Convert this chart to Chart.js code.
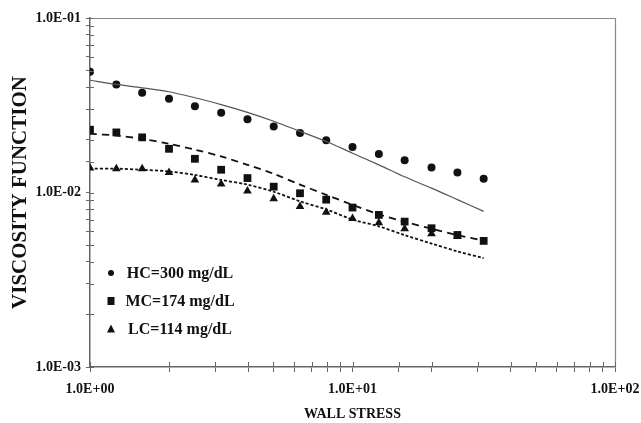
<!DOCTYPE html>
<html>
<head>
<meta charset="utf-8">
<script src="https://cdn.jsdelivr.net/npm/chart.js@4"></script>
<style>
html,body{margin:0;padding:0;background:#fff;}
#wrap{width:641px;height:423px;position:relative;}
</style>
</head>
<body>
<div id="wrap"><canvas id="c" width="641" height="423"></canvas></div>
<script>
// Wall stress values (x)
const wallStress = [1, 1.26, 1.58, 2, 2.51, 3.16, 3.98, 5.01, 6.31, 7.94, 10, 12.6, 15.8, 20, 25.1, 31.6];
// Measured viscosity function
const hcData = [0.0492, 0.0416, 0.0373, 0.0344, 0.0312, 0.0286, 0.0263, 0.0239, 0.0219, 0.0199, 0.0182, 0.0166, 0.0153, 0.0139, 0.0130, 0.0120];
const mcData = [0.0229, 0.0221, 0.0207, 0.0178, 0.0156, 0.0135, 0.0121, 0.0108, 0.0099, 0.0091, 0.0082, 0.00744, 0.00681, 0.00624, 0.00571, 0.00528];
const lcData = [0.0138, 0.0137, 0.0137, 0.0130, 0.0118, 0.0112, 0.0102, 0.0092, 0.0083, 0.0077, 0.0071, 0.0067, 0.0062, 0.0058, 0.0056];
// Model fit curves
const hcFit = [0.0440, 0.0416, 0.0398, 0.0378, 0.0349, 0.0319, 0.0288, 0.0256, 0.0224, 0.0196, 0.0168, 0.0144, 0.0123, 0.0106, 0.0091, 0.0078];
const mcFit = [0.0217, 0.0212, 0.0203, 0.0190, 0.0176, 0.0161, 0.0144, 0.0128, 0.0111, 0.0097, 0.0085, 0.0075, 0.0068, 0.0062, 0.0057, 0.0053];
const lcFit = [0.0137, 0.0137, 0.0135, 0.0132, 0.0126, 0.0118, 0.0111, 0.0101, 0.0089, 0.0080, 0.0070, 0.0064, 0.0057, 0.0051, 0.0046, 0.0042];
const seriesLabels = ['HC=300 mg/dL', 'MC=174 mg/dL', 'LC=114 mg/dL'];
const xTitle = 'WALL STRESS';
const yTitle = 'VISCOSITY FUNCTION';

const pts = (ys) => ys.map((v, i) => ({x: wallStress[i], y: v}));
const SERIF = '"Liberation Serif", "Times New Roman", serif';

function sci(v) {
  const e = Math.round(Math.log10(v));
  const s = e < 0 ? '-' : '+';
  const a = Math.abs(e);
  return '1.0E' + s + (a < 10 ? '0' + a : a);
}
function isDecade(v) {
  const l = Math.log10(v);
  return Math.abs(l - Math.round(l)) < 1e-6;
}

const framePlugin = {
  id: 'frame',
  afterDraw(chart) {
    const ctx = chart.ctx, a = chart.chartArea;
    ctx.save();
    ctx.strokeStyle = '#8a8a8a';
    ctx.lineWidth = 1.2;
    ctx.beginPath();
    ctx.moveTo(a.left, a.top + 0.5); ctx.lineTo(a.right + 0.5, a.top + 0.5);
    ctx.lineTo(a.right + 0.5, a.bottom);
    ctx.stroke();
    // inner tick marks
    ctx.strokeStyle = '#666';
    ctx.lineWidth = 1;
    const xs = chart.scales.x, ys = chart.scales.y;
    ctx.beginPath();
    xs.ticks.forEach(t => {
      const p = Math.round(xs.getPixelForValue(t.value)) + 0.5;
      ctx.moveTo(p, a.bottom); ctx.lineTo(p, a.bottom - 5);
    });
    ys.ticks.forEach(t => {
      const p = Math.round(ys.getPixelForValue(t.value)) + 0.5;
      ctx.moveTo(a.left, p); ctx.lineTo(a.left + 4, p);
    });
    ctx.stroke();
    // legend
    const lx = a.left + 21, tx = a.left + 90;
    const rows = [a.top + 255, a.top + 283, a.top + 311];
    const styles = ['circle', 'rect', 'triangle'];
    ctx.fillStyle = '#111';
    ctx.font = 'bold 16px ' + SERIF;
    ctx.textAlign = 'center';
    ctx.textBaseline = 'middle';
    rows.forEach((y, i) => {
      ctx.beginPath();
      if (styles[i] === 'circle') { ctx.arc(lx, y, 3, 0, Math.PI * 2); }
      else if (styles[i] === 'rect') { ctx.rect(lx - 3.5, y - 4, 7, 8); }
      else { ctx.moveTo(lx, y - 4.5); ctx.lineTo(lx + 4, y + 3.5); ctx.lineTo(lx - 4, y + 3.5); ctx.closePath(); }
      ctx.fill();
      ctx.fillText(seriesLabels[i], tx, y + 1);
    });
    ctx.restore();
  }
};

new Chart(document.getElementById('c'), {
  type: 'scatter',
  data: {
    datasets: [
      {label: seriesLabels[0] + ' fit', data: pts(hcFit), showLine: true, pointRadius: 0, borderColor: '#555', borderWidth: 1.2, fill: false, tension: 0.3},
      {label: seriesLabels[1] + ' fit', data: pts(mcFit), showLine: true, pointRadius: 0, borderColor: '#111', borderWidth: 1.8, borderDash: [7, 5], fill: false, tension: 0.3},
      {label: seriesLabels[2] + ' fit', data: pts(lcFit), showLine: true, pointRadius: 0, borderColor: '#111', borderWidth: 1.8, borderDash: [3, 2], fill: false, tension: 0.3},
      {label: seriesLabels[0], data: pts(hcData), pointStyle: 'circle', pointRadius: 4, backgroundColor: '#111', borderColor: '#111', borderWidth: 0},
      {label: seriesLabels[1], data: pts(mcData), pointStyle: 'rect', pointRadius: 5.5, backgroundColor: '#111', borderColor: '#111', borderWidth: 0},
      {label: seriesLabels[2], data: pts(lcData), pointStyle: 'triangle', pointRadius: 5, backgroundColor: '#111', borderColor: '#111', borderWidth: 0}
    ]
  },
  options: {
    responsive: false,
    animation: false,
    layout: {padding: {top: 18, right: 26, left: 0, bottom: 0}},
    plugins: {legend: {display: false}, tooltip: {enabled: false}},
    scales: {
      x: {
        type: 'logarithmic', min: 1, max: 100,
        afterFit(s) { s.height = 56; s.paddingRight = 0; s.paddingLeft = 0; },
        border: {color: '#666', width: 1.5},
        grid: {display: true, drawOnChartArea: false, color: '#666', tickLength: 5},
        ticks: {
          autoSkip: false, maxRotation: 0, padding: 9, color: '#111',
          font: {family: SERIF, size: 14, weight: 'bold'},
          callback: (v) => isDecade(v) ? sci(v) : ''
        },
        title: {display: true, text: xTitle, color: '#111', padding: {top: 0, bottom: 0}, font: {family: SERIF, size: 14, weight: 'bold'}}
      },
      y: {
        type: 'logarithmic', min: 0.001, max: 0.1,
        afterFit(s) { s.width = 90; s.paddingTop = 0; s.paddingBottom = 0; },
        border: {color: '#666', width: 1.5},
        grid: {display: true, drawOnChartArea: false, color: '#666', tickLength: 4},
        ticks: {
          autoSkip: false, padding: 5, color: '#111',
          font: {family: SERIF, size: 14, weight: 'bold'},
          callback: (v) => isDecade(v) ? sci(v) : ''
        },
        title: {display: true, text: yTitle, color: '#111', padding: {top: 8, bottom: 0}, font: {family: SERIF, size: 21, weight: 'bold'}}
      }
    }
  },
  plugins: [framePlugin]
});
</script>
</body>
</html>
